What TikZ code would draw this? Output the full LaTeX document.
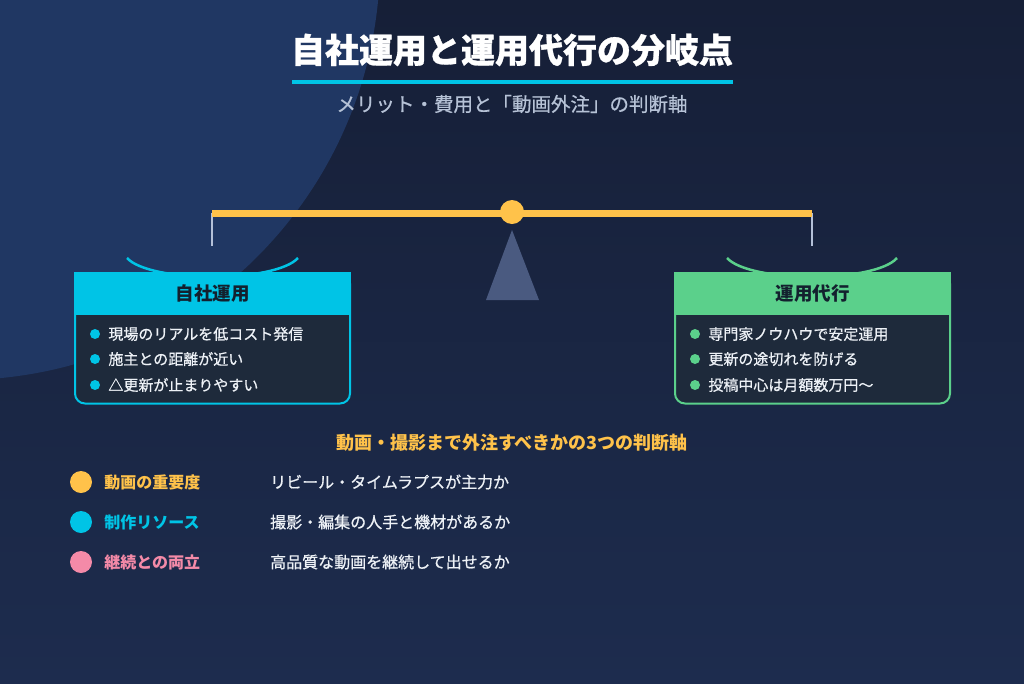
\documentclass[tikz,border=0pt]{standalone}
\usepackage{fontspec}
\setmainfont{Noto Sans CJK JP}
\newfontfamily\medfont{Noto Sans CJK JP}[FakeBold=0.7]
\newfontfamily\heavyfont{Noto Sans CJK JP}[BoldFeatures={FakeBold=0.8}]
\usepackage{tikz}
\usetikzlibrary{positioning, calc}
\definecolor{bgtop}{HTML}{161F37}
\definecolor{bgbot}{HTML}{1D2C4E}
\definecolor{glow}{HTML}{203763}
\definecolor{cyanc}{HTML}{00C4E6}
\definecolor{greenc}{HTML}{5BD08B}
\definecolor{goldc}{HTML}{FFC24A}
\definecolor{pinkc}{HTML}{F48AA8}
\definecolor{hangc}{HTML}{B4C0D8}
\definecolor{pivotc}{HTML}{4A5A80}
\definecolor{bodyc}{HTML}{1E2A3B}
\definecolor{headtxt}{HTML}{13202E}
\definecolor{subtxt}{HTML}{B6C2D6}
\definecolor{itemtxt}{HTML}{EEF2F7}
\tikzset{
  ttl/.style      = {inner sep=0pt, text=white, font=\fontsize{34}{40}\selectfont\heavyfont\bfseries},
  subttl/.style   = {inner sep=0pt, text=subtxt, font=\fontsize{19.5}{24}\selectfont\medfont},
  boxbody/.style  = {rectangle, rounded corners=10pt, draw, line width=2pt, fill=bodyc,
                     minimum width=275pt, minimum height=130pt, inner sep=0pt},
  boxhead/.style  = {rectangle, minimum width=277pt, minimum height=43pt, inner sep=0pt,
                     text=headtxt, font=\fontsize{18.5}{22}\selectfont\bfseries},
  dot/.style      = {circle, inner sep=0pt, minimum size=10pt},
  item/.style     = {inner sep=0pt, text=itemtxt, font=\fontsize{15}{18}\selectfont\medfont},
  pan/.style      = {line width=2.5pt},
  hanger/.style   = {draw=hangc, line width=2pt},
  bigdot/.style   = {circle, inner sep=0pt, minimum size=22pt},
  crit/.style     = {inner sep=0pt, font=\fontsize{16}{19}\selectfont\bfseries},
  critdesc/.style = {inner sep=0pt, anchor=west, text=itemtxt, font=\fontsize{16}{19}\selectfont\medfont},
}
\begin{document}
\begin{tikzpicture}[x=1pt, y=-1pt]
  % ---- background
  \useasboundingbox (0,0) rectangle (1024,683);
  \shade[top color=bgtop, bottom color=bgbot] (0,0) rectangle (1024,683);
  \begin{scope}
    \clip (0,0) rectangle (1024,683);
    \fill[glow] (-40,-40) circle[radius=420pt];
  \end{scope}
  % ---- title
  \node[ttl] (title) at (512,50) {自社運用と運用代行の分岐点};
  \coordinate (ul) at (292,82);
  \coordinate (ur) at (733,82);
  \draw[cyanc, line width=4pt] (ul) -- (ur);
  \node[subttl] (sub) at (512,104) {メリット・費用と「動画外注」の判断軸};
  % ---- scale
  \coordinate (bl) at (212,213);
  \coordinate (br) at (812,213);
  \coordinate (hl) at (212,246);
  \coordinate (hr) at (812,246);
  \fill[pivotc] (512,230) -- (539,300) -- (486,300) -- cycle;
  \draw[hanger] (bl) -- (hl);
  \draw[hanger] (br) -- (hr);
  \draw[goldc, line width=7pt] (bl) -- (br);
  \node[bigdot, minimum size=24pt, fill=goldc] (pivot) at (512,212) {};
  % ---- pans
  \draw[pan, cyanc] (127,258) .. controls (150,283) and (275,283) .. (298,258);
  \draw[pan, greenc] (727,258) .. controls (750,283) and (875,283) .. (897,258);
  % ---- own operation
  \node[boxbody, draw=cyanc] (ownbox) at (212.5,338.5) {};
  \node[boxhead, fill=cyanc] (ownhead) at (212.5,293.5) {自社運用};
  \node[dot, fill=cyanc] (od1) at (95,334) {};
  \node[dot, fill=cyanc] (od2) at (95,359) {};
  \node[dot, fill=cyanc] (od3) at (95,385) {};
  \node[item, right=8pt of od1] (oi1) {現場のリアルを低コスト発信};
  \node[item, right=8pt of od2] (oi2) {施主との距離が近い};
  \node[item, right=8pt of od3] (oi3) {△更新が止まりやすい};
  % ---- agency
  \node[boxbody, draw=greenc] (agbox) at (812.5,338.5) {};
  \node[boxhead, fill=greenc] (aghead) at (812.5,293.5) {運用代行};
  \node[dot, fill=greenc] (ad1) at (695,334) {};
  \node[dot, fill=greenc] (ad2) at (695,359) {};
  \node[dot, fill=greenc] (ad3) at (695,385) {};
  \node[item, right=8pt of ad1] (ai1) {専門家ノウハウで安定運用};
  \node[item, right=8pt of ad2] (ai2) {更新の途切れを防げる};
  \node[item, right=8pt of ad3] (ai3) {投稿中心は月額数万円〜};
  % ---- criteria
  \node[crit, text=goldc, font=\fontsize{18}{22}\selectfont\bfseries] (crithead) at (512,443)
    {動画・撮影まで外注すべきかの3つの判断軸};
  \node[bigdot, fill=goldc] (c1) at (81,482) {};
  \node[bigdot, fill=cyanc] (c2) at (81,522) {};
  \node[bigdot, fill=pinkc] (c3) at (81,562) {};
  \node[crit, text=goldc, right=12pt of c1] (k1) {動画の重要度};
  \node[crit, text=cyanc, right=12pt of c2] (k2) {制作リソース};
  \node[crit, text=pinkc, right=12pt of c3] (k3) {継続との両立};
  \node[critdesc] (d1) at (270,482) {リビール・タイムラプスが主力か};
  \node[critdesc] (d2) at (270,522) {撮影・編集の人手と機材があるか};
  \node[critdesc] (d3) at (270,562) {高品質な動画を継続して出せるか};
\end{tikzpicture}
\end{document}
